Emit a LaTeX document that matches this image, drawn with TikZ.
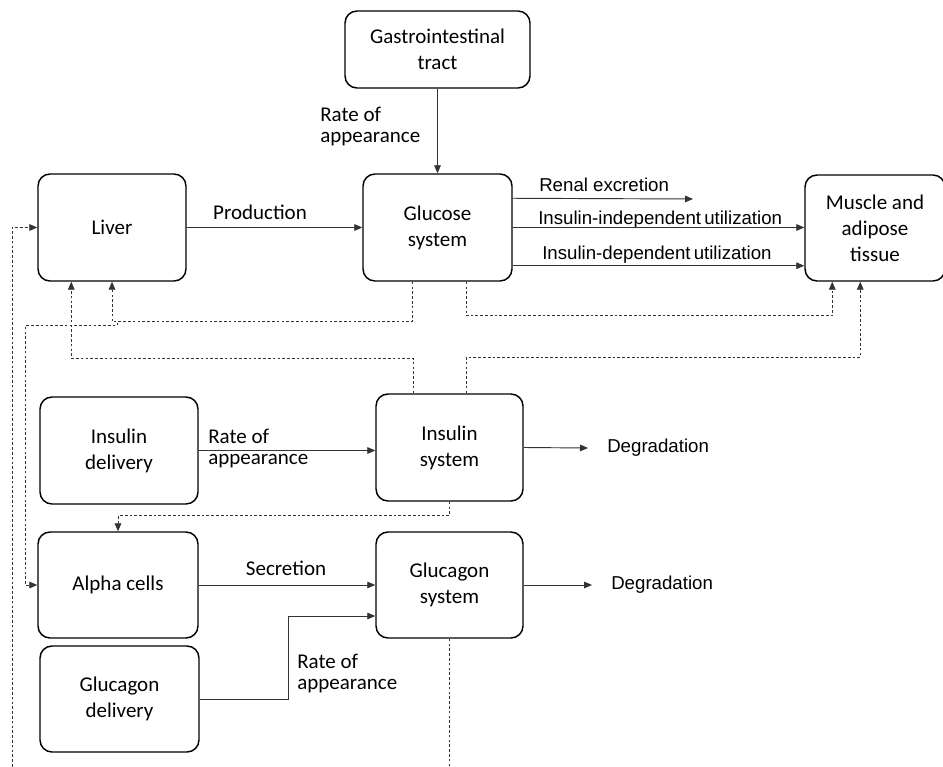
\documentclass[tikz,border=0pt]{standalone}
\usepackage{fontspec}
\setmainfont{Carlito}
\newfontfamily\arialfont{Liberation Sans}
\usetikzlibrary{arrows.meta,calc}

\newdimen\pxu
\pxu=0.75pt

\tikzset{
  blk/.style 2 args={draw=black, line width=1.1pt, rounded corners=9pt, align=center,
    inner sep=1pt, minimum width=#1\pxu, minimum height=#2\pxu,
    font=\fontsize{15.75pt}{19.5pt}\selectfont},
  arr/.style={-{Triangle[length=6pt,width=5pt]}, line width=0.7pt, draw=black!80},
  dasharr/.style={arr, line width=0.6pt, dash pattern=on 2pt off 1.6pt},
  flowlbl/.style={inner sep=0pt, align=left, font=\fontsize{15.75pt}{15.75pt}\selectfont},
  arlbl/.style={inner sep=0pt, font=\arialfont\fontsize{14pt}{16pt}\selectfont},
}

\begin{document}
\begin{tikzpicture}[x=0.75pt, y=-0.75pt]
\useasboundingbox (0,0) rectangle (943,767);
\clip (0,0) rectangle (943,767);

% compartments
\node[blk={185}{77}]  (gi)      at (437.5,49.5) {Gastrointestinal\\tract};
\node[blk={148}{107}] (liver)   at (112,227.5)  {Liver};
\node[blk={149}{107}] (glucose) at (437.5,227.5) {Glucose\\system};
\node[blk={140}{106}] (muscle)  at (875,228)    {Muscle and\\adipose\\tissue};
\node[blk={158}{107}] (insdel)  at (119,450.5)  {Insulin\\delivery};
\node[blk={147}{107}] (inssys)  at (449.5,447.5) {Insulin\\system};
\node[blk={160}{106}] (alpha)   at (118,585)    {Alpha cells};
\node[blk={147}{106}] (glusys)  at (449.5,585)  {Glucagon\\system};
\node[blk={159}{106}] (glucdel) at (119.5,699)  {Glucagon\\delivery};

% flow labels
\node[flowlbl, anchor=west] (raGI)  at (320,126.5) {Rate of\\appearance};
\node[flowlbl] (prod) at (260,212) {Production};
\node[arlbl, anchor=west] (renal) at (539,185) {Renal excretion};
\node[arlbl, anchor=west] (indep) at (538,220) {Insulin-independent\,utilization};
\node[arlbl, anchor=west] (dep)   at (542,255) {Insulin-dependent\,utilization};
\node[flowlbl, anchor=west] (raIns) at (208,448.5) {Rate of\\appearance};
\node[arlbl, anchor=west] (deg1) at (607,448) {Degradation};
\node[flowlbl] (secr) at (286,568) {Secretion};
\node[arlbl, anchor=west] (deg2) at (611,585) {Degradation};
\node[flowlbl, anchor=west] (raGlu) at (297,673.5) {Rate of\\appearance};

\coordinate (renalend) at (693,199);

% mass flows
\draw[arr] (gi) -- (glucose);
\draw[arr] (liver) -- (glucose);
\draw[arr] ($(glucose.north east)+(0,25)$) -- (renalend);
\draw[arr] (glucose.east) -- (glucose.east -| muscle.west);
\draw[arr] ($(glucose.south east)+(0,-16)$) -- ($(muscle.south west)+(0,-16)$);
\draw[arr] (insdel.east) -- (insdel.east -| inssys.west);
\draw[arr] (inssys.east) -- ($(deg1.west)+(-19,0)$);
\draw[arr] (alpha) -- (glusys);
\draw[arr] (glucdel.east) -- ++(89,0) |- ($(glusys.west)+(0,31)$);
\draw[arr] (glusys.east) -- ($(deg2.west)+(-19,0)$);

% control signals
\draw[dasharr] (glucose.south west) ++(50,0) -- ++(0,40) -| (liver.south);
\draw[dasharr] (glucose.south west) ++(50,0) -- ++(0,40) -- ++(-295,0) -- ++(0,4)
  -- ++(-92,0) |- (alpha.west);
\draw[dasharr] (inssys.north west) ++(38,0) -- ++(0,-35) -| ($(liver.south west)+(34,0)$);
\draw[dasharr] (glucose.south west) ++(104,0) -- ++(0,34) -| ($(muscle.south west)+(28,0)$);
\draw[dasharr] (inssys.north west) ++(91,0) -- ++(0,-36) -| ($(muscle.south west)+(56,0)$);
\draw[dasharr] (inssys.south) -- ++(0,14) -| (alpha.north);
\draw[dasharr] (glusys.south) -- ++(0,150) -- ++(-437.5,0) |- (liver.west);
\end{tikzpicture}
\end{document}
